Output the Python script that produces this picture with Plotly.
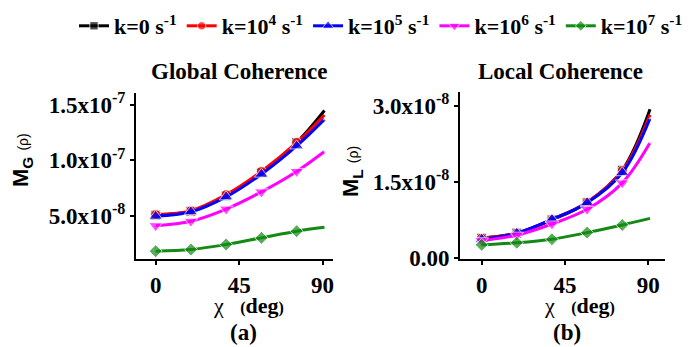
import plotly.graph_objects as go

# chi (deg) sample points; markers at first five, curve continues to the end point
chi = [0, 19, 38, 57, 76, 91]

series_names = ["k=0 s<sup>-1</sup>", "k=10<sup>4</sup> s<sup>-1</sup>", "k=10<sup>5</sup> s<sup>-1</sup>",
                "k=10<sup>6</sup> s<sup>-1</sup>", "k=10<sup>7</sup> s<sup>-1</sup>"]
colors = ["#000000", "#ff0000", "#0000ff", "#ff00ff", "#138a13"]
symbols = ["square", "circle", "triangle-up", "triangle-down", "diamond"]

# Global coherence M_G (units of 1e-8)
mg_k0 = [5.05, 5.4, 6.8, 8.9, 11.6, 14.5]
mg_k4 = [5.1, 5.45, 6.9, 9.0, 11.6, 14.1]
mg_k5 = [4.95, 5.35, 6.7, 8.75, 11.3, 13.7]
mg_k6 = [4.1, 4.5, 5.6, 7.15, 9.0, 10.8]
mg_k7 = [1.8, 1.95, 2.4, 3.0, 3.6, 3.95]

# Local coherence M_L (units of 1e-8)
ml_k0 = [0.39, 0.49, 0.75, 1.09, 1.73, 2.93]
ml_k4 = [0.39, 0.49, 0.76, 1.10, 1.72, 2.82]
ml_k5 = [0.37, 0.49, 0.76, 1.09, 1.68, 2.75]
ml_k6 = [0.34, 0.45, 0.67, 0.96, 1.48, 2.27]
ml_k7 = [0.26, 0.30, 0.37, 0.50, 0.65, 0.78]

left_ticks = [5, 10, 15]
left_ticktext = ["5.0x10<sup>-8</sup>", "1.0x10<sup>-7</sup>", "1.5x10<sup>-7</sup>"]
right_ticks = [0, 1.5, 3.0]
right_ticktext = ["0.00", "1.5x10<sup>-8</sup>", "3.0x10<sup>-8</sup>"]
x_ticks = [0, 45, 90]
x_ticktext = ["0", "45", "90"]

W, H = 690, 347
SERIF = "Liberation Serif"
SANS = "Liberation Sans"

def b(t):
    return "<b>" + t + "</b>"

fig = go.Figure()
msizes = [10, 10, 10, 10, 10, 0]
for i, (yl, yr) in enumerate(zip([mg_k0, mg_k4, mg_k5, mg_k6, mg_k7],
                                 [ml_k0, ml_k4, ml_k5, ml_k6, ml_k7])):
    sz = [s + (2 if symbols[i].startswith("triangle") else 0) for s in msizes]
    fig.add_trace(go.Scatter(x=chi, y=yl, mode="lines+markers", name=b(series_names[i]),
                             line=dict(color=colors[i], width=3, shape="spline"),
                             marker=dict(symbol=symbols[i], size=sz, color=colors[i]),
                             xaxis="x", yaxis="y", legendgroup=str(i)))
    fig.add_trace(go.Scatter(x=chi, y=yr, mode="lines+markers", name=b(series_names[i]),
                             line=dict(color=colors[i], width=3, shape="spline"),
                             marker=dict(symbol=symbols[i], size=sz, color=colors[i]),
                             xaxis="x2", yaxis="y2", legendgroup=str(i), showlegend=False))

def px2x(p):
    return p / W

def px2y(p):
    return 1 - p / H

tickfont = dict(family=SERIF, size=23, color="black")
axis_common = dict(showline=True, linecolor="black", linewidth=2, ticks="outside",
                   ticklen=4, tickwidth=2, tickcolor="black", showgrid=False,
                   zeroline=False, mirror=False, tickfont=tickfont, automargin=False)

fig.update_layout(
    width=W, height=H, margin=dict(l=0, r=0, t=0, b=0, autoexpand=False),
    paper_bgcolor="white", plot_bgcolor="white",
    font=dict(family=SERIF, color="black"),
    xaxis=dict(domain=[px2x(136), px2x(333)], range=[-10.6, 95.6], tickvals=x_ticks,
               ticktext=[b(t) for t in x_ticktext], anchor="y", **axis_common),
    yaxis=dict(domain=[px2y(259), px2y(93)], range=[1.09, 16.08], tickvals=left_ticks,
               ticktext=[b(t) for t in left_ticktext], anchor="x", **axis_common),
    xaxis2=dict(domain=[px2x(460), px2x(665)], range=[-11.7, 99.1], tickvals=x_ticks,
                ticktext=[b(t) for t in x_ticktext], anchor="y2", **axis_common),
    yaxis2=dict(domain=[px2y(259), px2y(92)], range=[-0.02, 3.27], tickvals=right_ticks,
                ticktext=[b(t) for t in right_ticktext], anchor="x2", **axis_common),
    legend=dict(orientation="h", x=px2x(74), y=px2y(5), xanchor="left", yanchor="top",
                xref="container", yref="container",
                font=dict(family=SERIF, size=22, color="black"),
                bgcolor="rgba(0,0,0,0)", itemwidth=30, tracegroupgap=0),
    showlegend=True,
)

def ann(text, x, y, size=23, family=SERIF, angle=0):
    fig.add_annotation(text=text, x=px2x(x), y=px2y(y), xref="paper", yref="paper",
                       showarrow=False, textangle=angle, xanchor="center", yanchor="middle",
                       font=dict(family=family, size=size, color="black"))

ann(b("Global Coherence"), 239, 72)
ann(b("Local Coherence"), 560, 72)
xt = "<span style='font-size:22px'>χ</span>   <b><span style='font-size:16px'>(</span>deg<span style='font-size:16px'>)</span></b>"
ann(xt, 248, 305, size=22)
ann(xt, 579, 305, size=22)
ann(b("(a)"), 243, 332)
ann(b("(b)"), 567, 332)
ann("<b>M<sub>G</sub></b> <span style='font-size:14px'>(ρ)</span>", 22, 160,
    size=22, family=SANS, angle=-90)
ann("<b>M<sub>L</sub></b> <span style='font-size:14px'>(ρ)</span>", 352, 172,
    size=22, family=SANS, angle=-90)

fig.write_html("out.html")
